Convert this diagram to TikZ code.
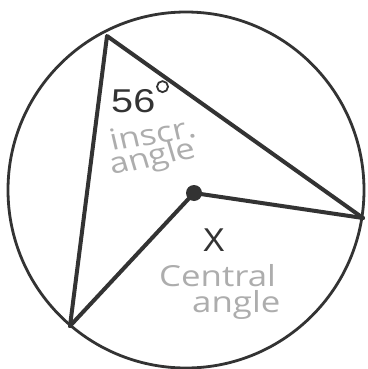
\documentclass[tikz,border=0pt]{standalone}
\usepackage{fontspec}
\setmainfont{Liberation Sans}
\newfontfamily\handfont{Open Sans}
\begin{document}
\begin{tikzpicture}[x=1pt,y=-1pt,
  edge/.style={draw=black!80, line width=4pt, line cap=round, line join=round},
  rim/.style={draw=black!80, line width=2.8pt},
  hand/.style={text=black!32, font=\handfont\fontsize{29}{29}\selectfont, inner sep=0pt},
  bigtext/.style={inner sep=0pt, text=black!80, font=\fontsize{33}{33}\selectfont}]
\useasboundingbox[fill=white] (0,0) rectangle (367,369);
\coordinate (M) at (186,190);
\coordinate (A) at (107,36);
\coordinate (B) at (363,218);
\coordinate (C) at (70,326);
\coordinate (O) at (194,193);
\draw[rim] (M) circle[radius=178];
\draw[edge] (C) -- (A) -- (B);
\draw[edge] (C) -- (O) -- (B);
\fill[black!80] (O) circle[radius=8];
\node[bigtext, xscale=1.2, anchor=base west] (ang) at (111,112) {56};
\draw[black!80, line width=1.8pt] (ang.east) ++(7,-14) circle[radius=5.5];
\node[bigtext, anchor=base] (x) at (214,251) {X};
\node[hand, xscale=1.2, rotate=11, anchor=base west] (ins) at (112,151) {inscr.};
\node[hand, xscale=1.2, rotate=14, anchor=base west] (ia) at (112,175) {angle};
\node[hand, xscale=1.2, anchor=base west] (cen) at (159,286) {Central};
\node[hand, xscale=1.2, anchor=base west] (ca) at (192,312) {angle};
\end{tikzpicture}
\end{document}
